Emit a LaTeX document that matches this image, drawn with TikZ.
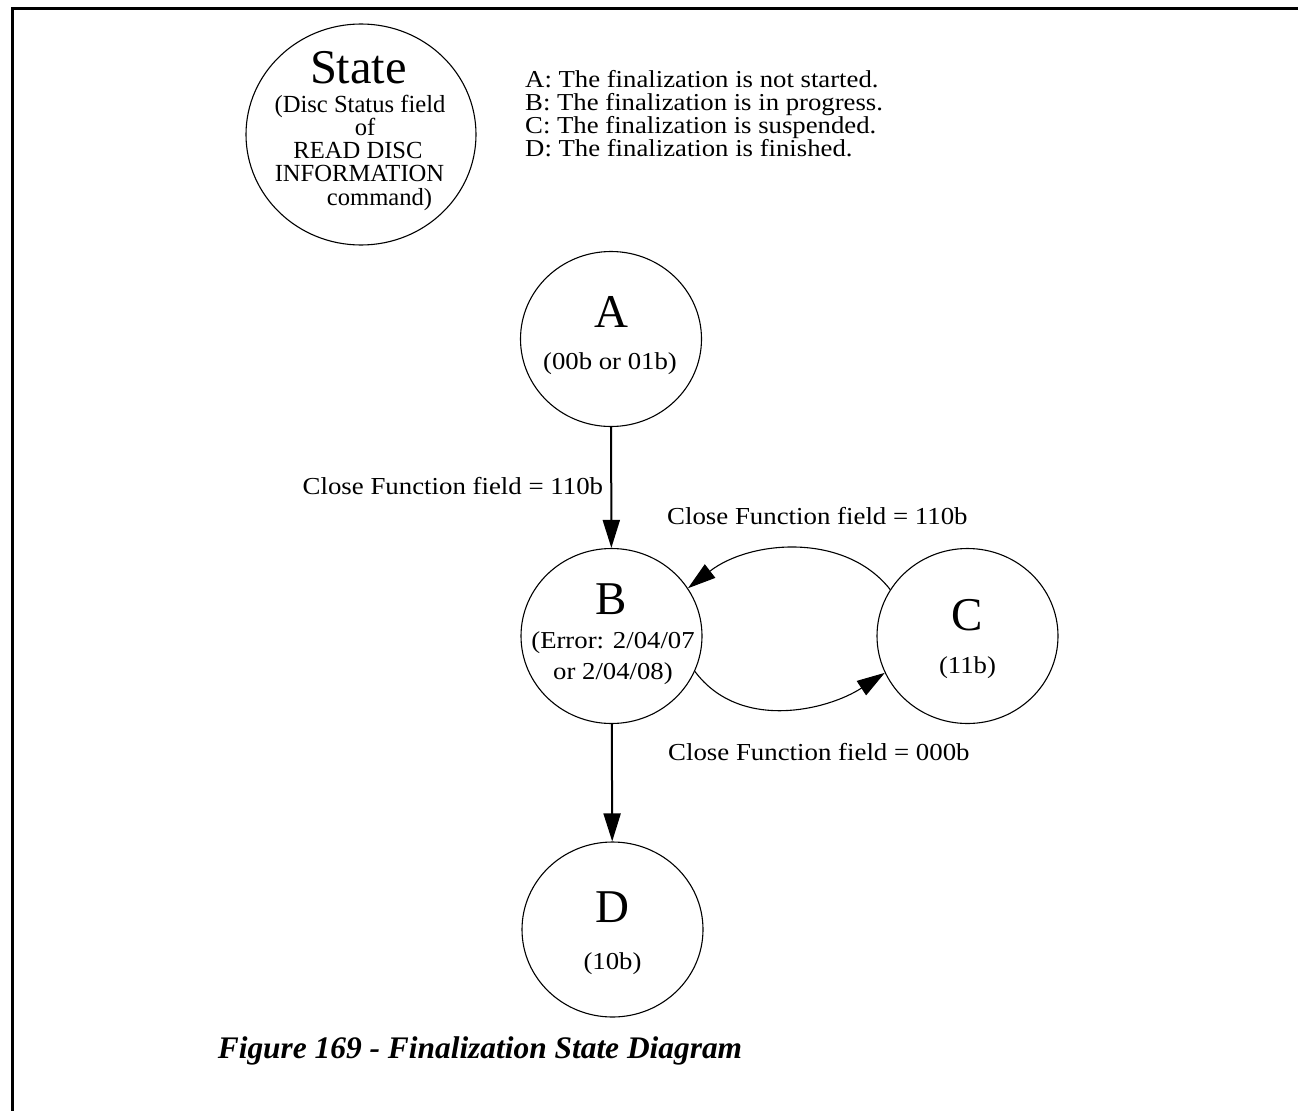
\documentclass[tikz,border=0pt]{standalone}
\usepackage{fontspec}
\setmainfont{Liberation Serif}
\newfontfamily\wideserif{Liberation Serif}[FakeStretch=1.1]
\usetikzlibrary{arrows.meta,shapes.geometric}
\begin{document}
\begin{tikzpicture}[x=1pt,y=-1pt,
  statecirc/.style={draw, ellipse, line width=1.1pt, minimum width=181pt, minimum height=175pt, inner sep=0pt},
  bigletter/.style={anchor=base, inner sep=0pt, font=\fontsize{47}{47}\selectfont},
  subtxt/.style={anchor=base, inner sep=0pt, font=\wideserif\fontsize{24.3}{24.3}\selectfont},
  smalltxt/.style={anchor=base, inner sep=0pt, font=\fontsize{24.6}{24.6}\selectfont},
  legtxt/.style={anchor=base west, inner sep=0pt, font=\wideserif\fontsize{24.3}{24.3}\selectfont},
  lbltxt/.style={anchor=base west, inner sep=0pt, font=\wideserif\fontsize{24.4}{24.4}\selectfont},
  arr/.style={-{Triangle[length=28pt,width=17pt]}, line width=2pt},
  curvearr/.style={-{Triangle[length=28pt,width=17pt]}, line width=1.1pt},
  frameline/.style={line width=3pt}
]
\useasboundingbox (0,0) rectangle (1298,1111);
% frame (top and left edges)
\coordinate (ftl) at (12.5,8.5);
\coordinate (ftr) at (1298,8.5);
\coordinate (fbl) at (12.5,1111);
\draw[frameline] (ftr) -- (ftl) -- (fbl);

% key circle
\node[draw, ellipse, line width=1.1pt, minimum width=230pt, minimum height=221pt, inner sep=0pt] (state) at (361,134.5) {};
\node[anchor=base, inner sep=0pt, font=\fontsize{48.5}{48.5}\selectfont] (statet) at (358.5,83) {State};
\node[smalltxt] (s1) at (360,112) {(Disc Status field};
\node[smalltxt] (s2) at (365,135.3) {of};
\node[smalltxt] (s3) at (358,158.6) {READ DISC};
\node[smalltxt] (s4) at (359.5,181.9) {INFORMATION};
\node[smalltxt] (s5) at (379.5,205.2) {command)};

% legend
\node[legtxt] (l1) at (525,87.5) {A: The finalization is not started.};
\node[legtxt] (l2) at (525,110.5) {B: The finalization is in progress.};
\node[legtxt] (l3) at (525,133.5) {C: The finalization is suspended.};
\node[legtxt] (l4) at (525,156.5) {D: The finalization is finished.};

% states
\node[statecirc] (A) at (611,339) {};
\node[bigletter] (At) at (611,327) {A};
\node[subtxt] (As) at (610,369) {(00b or 01b)};

\node[statecirc] (B) at (611.5,636) {};
\node[bigletter] (Bt) at (611.5,614) {B};
\node[subtxt] (Bs1) at (613,648) {(Error: 2/04/07};
\node[subtxt] (Bs2) at (613,679) {or 2/04/08)};

\node[statecirc] (C) at (967.5,636) {};
\node[bigletter] (Ct) at (967.5,630) {C};
\node[subtxt] (Cs) at (967.5,673) {(11b)};

\node[statecirc] (D) at (612.5,929.5) {};
\node[bigletter] (Dt) at (612.5,922) {D};
\node[subtxt] (Ds) at (612.5,969) {(10b)};

% transitions
\draw[arr] (A) -- (B);
\draw[arr] (B) -- (D);
\draw[curvearr] (C.149) .. controls (845,532) and (750,540) .. (B.32);
\draw[curvearr] (B.-23) .. controls (740,732) and (828,710) .. (C.204);

% labels
\node[lbltxt] (lab1) at (302.5,494) {Close Function field = 110b};
\node[lbltxt] (lab2) at (667,524) {Close Function field = 110b};
\node[lbltxt] (lab3) at (668,760) {Close Function field = 000b};

% caption
\node[anchor=base, inner sep=0pt, font=\fontsize{31.4}{31.4}\selectfont\bfseries\itshape] (cap) at (480,1058) {Figure 169 - Finalization State Diagram};
\end{tikzpicture}
\end{document}
